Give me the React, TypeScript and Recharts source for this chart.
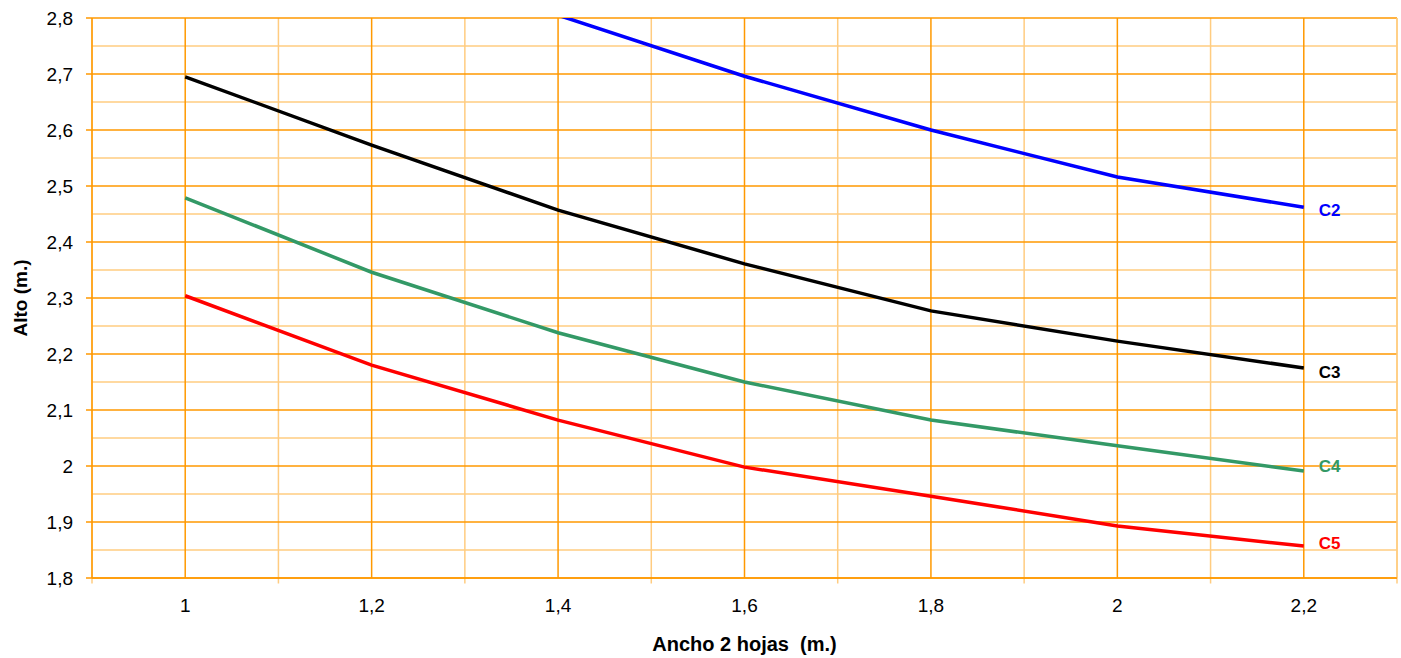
import { Label, Line, LineChart, ReferenceLine, XAxis, YAxis } from "recharts";

// Ancho 2 hojas (m.)
const anchos = [1, 1.2, 1.4, 1.6, 1.8, 2, 2.2];

// Alto (m.) per curve
const c2 = [3.07, 2.935, 2.805, 2.696, 2.6, 2.516, 2.462];
const c3 = [2.695, 2.573, 2.457, 2.361, 2.277, 2.223, 2.175];
const c4 = [2.479, 2.346, 2.238, 2.15, 2.082, 2.036, 1.991];
const c5 = [2.304, 2.18, 2.082, 1.998, 1.946, 1.893, 1.857];

const yTicks = [1.8, 1.9, 2, 2.1, 2.2, 2.3, 2.4, 2.5, 2.6, 2.7, 2.8];
const yMinor = [1.85, 1.95, 2.05, 2.15, 2.25, 2.35, 2.45, 2.55, 2.65, 2.75];
const xMinor = [0.9, 1.1, 1.3, 1.5, 1.7, 1.9, 2.1, 2.3];

const series = [
  { key: "C2", values: c2, color: "#0000ff", dy: 3 },
  { key: "C3", values: c3, color: "#000000", dy: 4 },
  { key: "C4", values: c4, color: "#339966", dy: -5 },
  { key: "C5", values: c5, color: "#ff0000", dy: -3 }
];

const data = anchos.map((x, i) => {
  const row: Record<string, number> = { x };
  series.forEach((s) => {
    row[s.key] = s.values[i];
  });
  return row;
});

const major = "#ff9900";
const minor = "#ffcc80";
const font = "Arial, 'Liberation Sans', sans-serif";
const fmt = (v: number) => String(Number(v.toFixed(2))).replace(".", ",");

const endLabel = (name: string, color: string, dy: number) => (props: any) => {
  if (props.index !== anchos.length - 1) return null;
  return (
    <text
      x={props.x + 15}
      y={props.y + dy}
      dominantBaseline="central"
      fill={color}
      fontFamily={font}
      fontSize={17}
      fontWeight="bold"
    >
      {name}
    </text>
  );
};

export default function App() {
  return (
    <div style={{ position: "absolute", left: 0, top: 0, background: "#fff" }}>
      <LineChart width={1401} height={658} data={data} margin={{ top: 18, right: 4, bottom: 0, left: 0 }}>
        {yMinor.map((v) => (
          <ReferenceLine key={`ym-${v}`} y={v} stroke={minor} strokeWidth={1.5} />
        ))}
        {xMinor.map((v) => (
          <ReferenceLine
            key={`xm-${v}`}
            segment={[{ x: v, y: 1.79 }, { x: v, y: 2.8 }]}
            stroke={minor}
            strokeWidth={1.5}
            ifOverflow="visible"
          />
        ))}
        {anchos.map((v) => (
          <ReferenceLine key={`xM-${v}`} x={v} stroke={major} strokeWidth={1.5} />
        ))}
        {yTicks.map((v) => (
          <ReferenceLine key={`yM-${v}`} y={v} stroke={major} strokeWidth={1.5} />
        ))}
        <XAxis
          dataKey="x"
          type="number"
          domain={[0.9, 2.3]}
          ticks={anchos}
          tickFormatter={fmt}
          tickLine={false}
          tickMargin={15}
          axisLine={{ stroke: major, strokeWidth: 1.5 }}
          tick={{ fill: "#000", fontSize: 19, fontFamily: font }}
          height={80}
        >
          <Label
            content={({ viewBox }: any) => (
              <text
                x={viewBox.x + viewBox.width / 2}
                y={651}
                textAnchor="middle"
                fontFamily={font}
                fontSize={20}
                fontWeight="bold"
                fill="#000"
              >
                Ancho 2 hojas{"\u00a0\u00a0"}(m.)
              </text>
            )}
          />
        </XAxis>
        <YAxis
          type="number"
          domain={[1.8, 2.8]}
          allowDataOverflow
          ticks={yTicks}
          tickFormatter={fmt}
          tickLine={{ stroke: major, strokeWidth: 1.5 }}
          tickSize={6}
          tickMargin={13}
          axisLine={{ stroke: major, strokeWidth: 1.5 }}
          tick={{ fill: "#000", fontSize: 19, fontFamily: font }}
          width={92}
        >
          <Label
            content={({ viewBox }: any) => {
              const cx = 20;
              const cy = viewBox.y + viewBox.height / 2;
              return (
                <text
                  x={cx}
                  y={cy}
                  transform={`rotate(-90 ${cx} ${cy})`}
                  textAnchor="middle"
                  dominantBaseline="central"
                  fontFamily={font}
                  fontSize={19}
                  fontWeight="bold"
                  fill="#000"
                >
                  Alto (m.)
                </text>
              );
            }}
          />
        </YAxis>
        <ReferenceLine x={2.3} stroke={minor} strokeWidth={1.5} />
        {series.map((s) => (
          <Line
            key={s.key}
            dataKey={s.key}
            type="linear"
            stroke={s.color}
            strokeWidth={3.5}
            dot={false}
            activeDot={false}
            isAnimationActive={false}
            label={endLabel(s.key, s.color, s.dy)}
          />
        ))}
      </LineChart>
    </div>
  );
}
